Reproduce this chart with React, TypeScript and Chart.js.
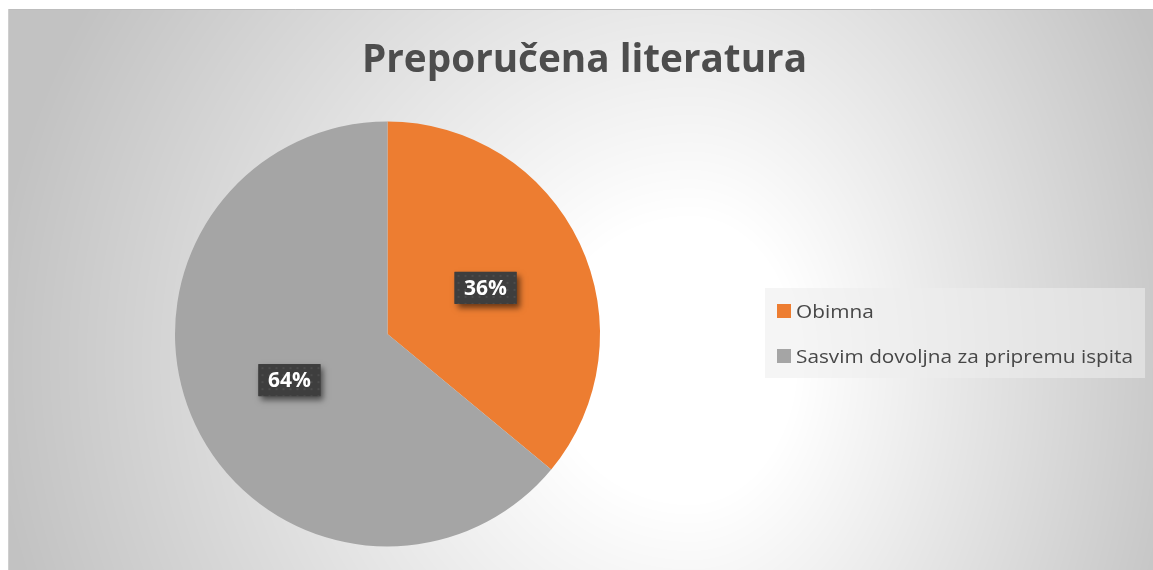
import { useEffect, useRef } from 'react';
import { Chart, registerables } from 'chart.js';

Chart.register(...registerables);

const TITLE = 'Preporučena literatura';
const categories = ['Obimna', 'Sasvim dovoljna za pripremu ispita'];
const values = [36, 64];
const colors = ['#ED7D31', '#A5A5A5'];

const W = 1150;
const H = 566;

function makeBackground(w: number, h: number): HTMLCanvasElement {
  const c = document.createElement('canvas');
  c.width = w;
  c.height = h;
  const ctx = c.getContext('2d')!;
  const img = ctx.createImageData(w, h);
  const cx = 682;
  const cy = 351;
  const dark = 194;
  for (let y = 0; y < h; y++) {
    for (let x = 0; x < w; x++) {
      const dx = x - cx;
      const rx = dx < 0 ? 700 : 520;
      const nx = dx / rx;
      const ny = (y - cy) / 700;
      const r = Math.sqrt(nx * nx + ny * ny);
      let t = (r - 0.2) / 0.8;
      if (t < 0) t = 0;
      if (t > 1) t = 1;
      const v = Math.round(255 - t * (255 - dark));
      const i = (y * w + x) * 4;
      img.data[i] = v;
      img.data[i + 1] = v;
      img.data[i + 2] = v;
      img.data[i + 3] = 255;
    }
  }
  ctx.putImageData(img, 0, 0);
  return c;
}

function makePattern(ctx: CanvasRenderingContext2D): CanvasPattern | string {
  const p = document.createElement('canvas');
  p.width = 7;
  p.height = 7;
  const pc = p.getContext('2d')!;
  pc.fillStyle = '#3e3e3e';
  pc.fillRect(0, 0, 7, 7);
  pc.fillStyle = '#4c4c4c';
  pc.fillRect(3, 3, 2, 2);
  return ctx.createPattern(p, 'repeat') || '#404040';
}

export default function App() {
  const canvasRef = useRef<HTMLCanvasElement | null>(null);

  useEffect(() => {
    const canvas = canvasRef.current;
    if (!canvas) return;
    const bg = makeBackground(W, H);

    const deco = {
      id: 'deco',
      beforeDraw(chart: any) {
        const ctx: CanvasRenderingContext2D = chart.ctx;
        ctx.save();
        ctx.drawImage(bg, 0, 0);
        ctx.strokeStyle = '#bdbdbd';
        ctx.lineWidth = 1;
        ctx.beginPath();
        ctx.moveTo(0, 0.5);
        ctx.lineTo(W, 0.5);
        ctx.stroke();
        ctx.strokeStyle = '#cfcfcf';
        ctx.beginPath();
        ctx.moveTo(0.5, 0);
        ctx.lineTo(0.5, H);
        ctx.stroke();
        ctx.restore();
      },
      afterDraw(chart: any) {
        const ctx: CanvasRenderingContext2D = chart.ctx;
        ctx.save();
        // Title
        ctx.fillStyle = '#4d4d4d';
        ctx.font = 'bold 39px "Open Sans"';
        ctx.textAlign = 'center';
        ctx.textBaseline = 'alphabetic';
        ctx.fillText(TITLE, 576.5, 63, 445);

        // Data labels
        const meta = chart.getDatasetMeta(0);
        const total = values.reduce((a, b) => a + b, 0);
        const pattern = makePattern(ctx);
        meta.data.forEach((arc: any, i: number) => {
          const p = arc.getProps(['x', 'y', 'startAngle', 'endAngle', 'outerRadius'], true);
          const mid = (p.startAngle + p.endAngle) / 2;
          const lx = p.x + Math.cos(mid) * p.outerRadius * 0.51;
          const ly = p.y + Math.sin(mid) * p.outerRadius * 0.51;
          const bw = 62;
          const bh = 32;
          ctx.save();
          ctx.shadowColor = 'rgba(0,0,0,0.55)';
          ctx.shadowBlur = 6;
          ctx.shadowOffsetX = 3;
          ctx.shadowOffsetY = 4;
          ctx.fillStyle = '#3e3e3e';
          ctx.fillRect(lx - bw / 2, ly - bh / 2, bw, bh);
          ctx.restore();
          ctx.save();
          ctx.translate(lx - bw / 2, ly - bh / 2);
          ctx.fillStyle = pattern as any;
          ctx.fillRect(0, 0, bw, bh);
          ctx.restore();
          ctx.fillStyle = '#ffffff';
          ctx.font = 'bold 21px "Open Sans"';
          ctx.textAlign = 'center';
          ctx.textBaseline = 'middle';
          ctx.fillText(Math.round((values[i] / total) * 100) + '%', lx, ly + 1);
        });

        // Legend
        ctx.fillStyle = 'rgba(237,237,237,0.57)';
        ctx.fillRect(757, 279, 380, 90);
        ctx.font = '19px "Open Sans"';
        ctx.textAlign = 'left';
        ctx.textBaseline = 'alphabetic';
        const longest = Math.max(...categories.map((c) => ctx.measureText(c).width));
        const sx = longest > 0 ? 337 / longest : 1;
        categories.forEach((c, i) => {
          const y = 295 + i * 45;
          ctx.fillStyle = colors[i];
          ctx.fillRect(769, y, 14, 14);
          ctx.save();
          ctx.translate(788, y + 14);
          ctx.scale(sx, 1);
          ctx.fillStyle = '#474747';
          ctx.fillText(c, 0, 0);
          ctx.restore();
        });
        ctx.restore();
      },
    };

    const chart = new Chart(canvas, {
      type: 'pie',
      data: {
        labels: categories,
        datasets: [
          {
            data: values,
            backgroundColor: colors,
            borderWidth: 0,
            hoverOffset: 0,
          },
        ],
      },
      options: {
        animation: false,
        responsive: true,
        maintainAspectRatio: false,
        events: [],
        layout: {
          padding: { left: 167, right: W - 592, top: 112.5, bottom: H - 537.5 },
        },
        plugins: {
          legend: { display: false },
          title: { display: false },
          tooltip: { enabled: false },
        },
      },
      plugins: [deco],
    });

    return () => {
      chart.destroy();
    };
  }, []);

  return (
    <div style={{ position: 'fixed', left: 8, top: 9, width: W, height: H }}>
      <canvas ref={canvasRef} />
    </div>
  );
}
